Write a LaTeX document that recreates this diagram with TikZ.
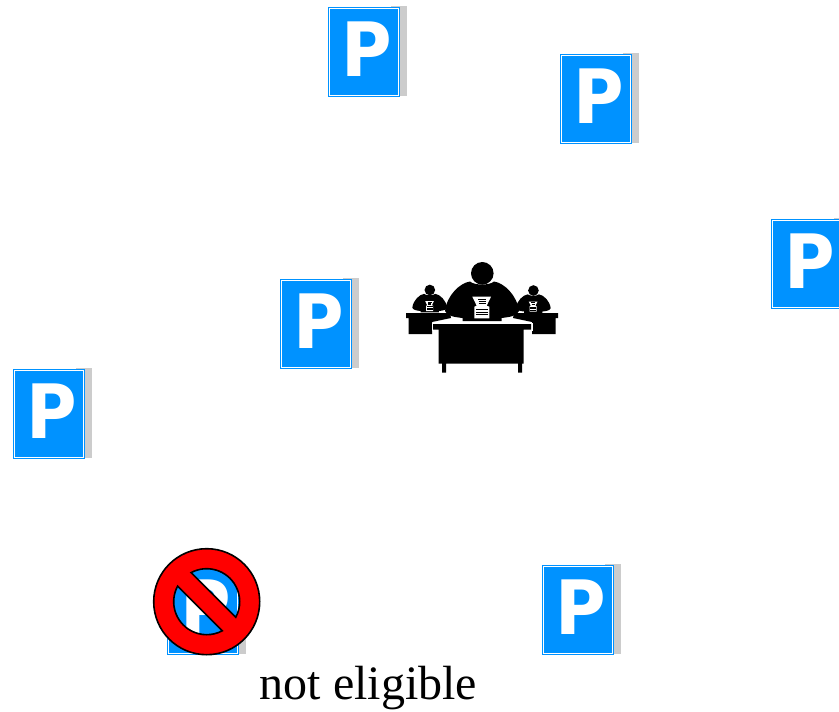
\documentclass[tikz,border=0pt]{standalone}
\usepackage{fontspec}
\usepackage{xcolor}
\setmainfont{Liberation Serif}
\setsansfont{DejaVu Sans}
\usetikzlibrary{positioning}
\definecolor{signblue}{RGB}{0,146,255}
\definecolor{signgrey}{RGB}{204,204,204}
\tikzset{
  signbox/.style={fill=signblue,minimum width=72pt,minimum height=90pt,inner sep=0pt,outer sep=0pt},
  signshade/.style={fill=signgrey,minimum width=16pt,minimum height=90pt,inner sep=0pt,outer sep=0pt},
  signline/.style={draw=white,line width=1.2pt,minimum width=68.5pt,minimum height=86.5pt,inner sep=0pt},
  signtext/.style={inner sep=0pt,text=white,xscale=.92,transform shape,font=\sffamily\bfseries\fontsize{75}{75}\selectfont},
  clerk/.pic={
    \fill (0.3,-21.7) circle (11.3pt);
    \fill (-37,16) .. controls (-35,0) and (-22,-12) .. (-12,-13.5) .. controls (-8,-9.5) and (8,-9.5) .. (12,-13.5)
      .. controls (22,-12) and (35,0) .. (37,16) .. controls (35,21) and (28,22) .. (19.5,23) -- (19.5,26)
      -- (-19.5,26) -- (-19.5,23) .. controls (-28,22) and (-35,21) .. cycle;
    \fill[white] (-9.7,1.7) -- (9,1.7) -- (4.7,10.7) -- (7.3,11.7) -- (7.3,23.3) -- (-7.7,23.3) -- (-7.7,11.7) -- (-5.3,10.7) -- cycle;
    \foreach \y/\w in {4/4,6.7/3.5,8.3/3.5,14/6,17/6,19.5/6}
      \draw[line width=.7pt] (-\w,\y) -- (\w,\y);
  },
  maindesk/.pic={
    \path[pic actions] (433,324) -- (531,324) -- (531,329.5) -- (523.5,329.5) -- (523.5,363.5) -- (522,363.5) -- (522,372.5) -- (518,372.5)
      -- (518,363.5) -- (446,363.5) -- (446,372.5) -- (442,372.5) -- (442,363.5) -- (438.5,363.5) -- (438.5,329.5) -- (433,329.5) -- cycle;
  },
}
\begin{document}
\begin{tikzpicture}[x=1pt,y=-1pt]
  \useasboundingbox (0,0) rectangle (839,712);
  % parking signs
  \foreach \name/\x/\y in {top/328/7,upper/560/54,right/771/219,middle/280/279,left/13/369,barred/167/565,lower/542/565}{
    \node[signshade] (\name shade) at (\x+71,\y+44) {};
    \node[signbox] (\name box) at (\x+36,\y+45) {};
    \node[signline] (\name) at (\name box) {};
    \node[signtext,xshift=2.5pt,yshift=2.5pt] (\name letter) at (\name box) {P};
  }
  % clerks
  \fill (406,313) -- (450,313) -- (451,318) -- (432,322) -- (432,334) -- (408.5,334) -- (408.5,318) -- (406,318) -- cycle;
  \fill (558,313) -- (514,313) -- (513,318) -- (532,322) -- (532,334) -- (555.5,334) -- (555.5,318) -- (558,318) -- cycle;
  \pic[scale=.47] at (429.7,300.2) {clerk};
  \pic[scale=.47] at (533.3,300.7) {clerk};
  \pic at (482,295) {clerk};
  \pic[draw=white,line width=3pt] {maindesk};
  \pic[fill=black] {maindesk};
  % no parking mark
  \begin{scope}[shift={(206.7,601.7)}]
    \draw[fill=red,line width=1.6pt,even odd rule] (0,0) circle (53pt)
      (118.3:33pt) arc[start angle=118.3,end angle=-28.3,radius=33pt] -- cycle
      (151.7:33pt) arc[start angle=151.7,end angle=298.3,radius=33pt] -- cycle;
  \end{scope}
  \node[font=\fontsize{48}{48}\selectfont,inner sep=0pt] (caption) at (368.5,688) {not eligible};
\end{tikzpicture}
\end{document}
